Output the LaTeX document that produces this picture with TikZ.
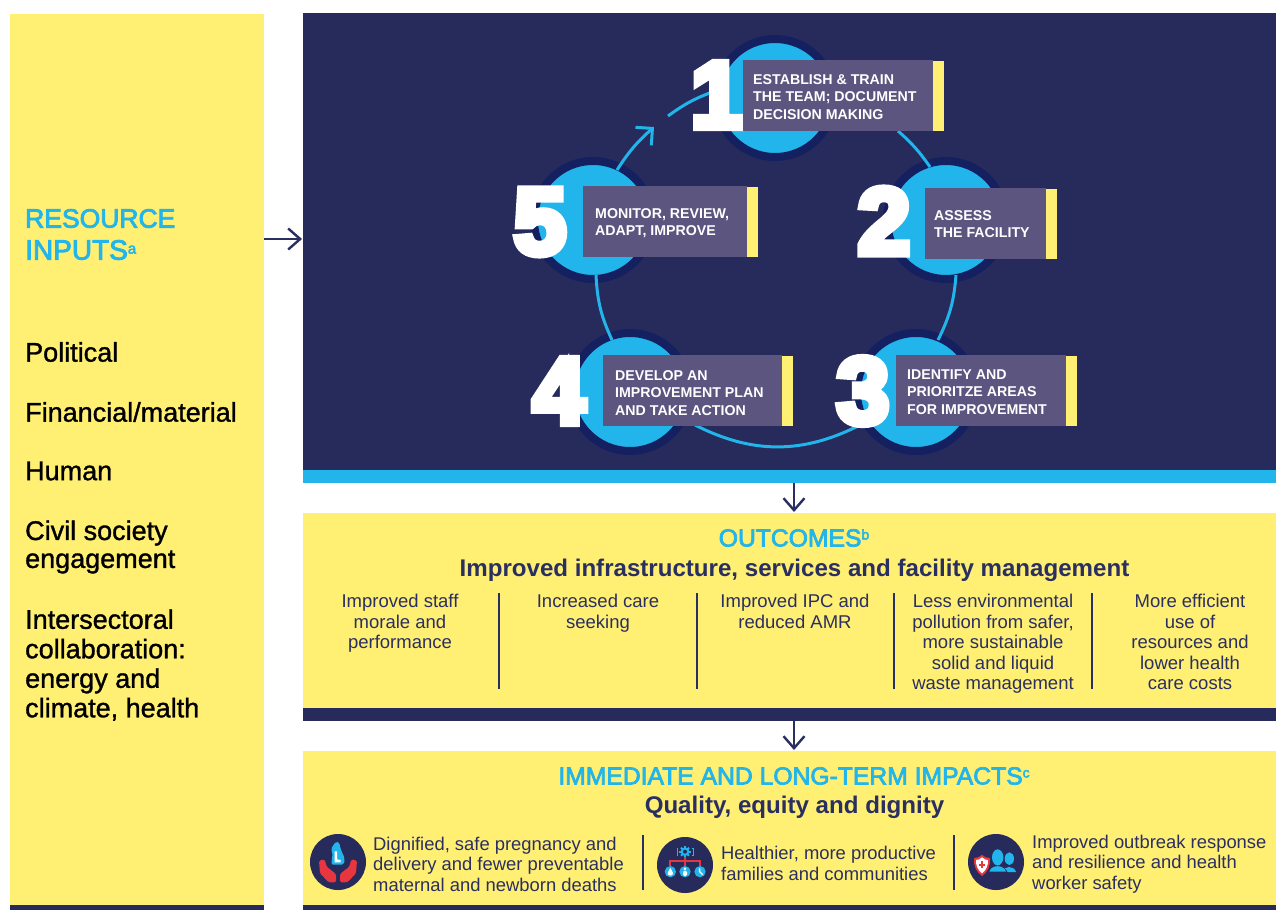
\documentclass[tikz,border=0pt]{standalone}
\usepackage{fontspec}
\setmainfont{Liberation Sans}
\newfontfamily\digitfont[FakeBold=8]{Liberation Sans Bold}
\newfontfamily\medfont[FakeBold=3]{Liberation Sans}
\newfontfamily\lightmed[FakeBold=1.2]{Liberation Sans}
\usetikzlibrary{arrows.meta,bending}
\definecolor{panel}{HTML}{262B5B}
\definecolor{ringdark}{HTML}{14205F}
\definecolor{sky}{HTML}{21B5EC}
\definecolor{lemon}{HTML}{FFEF73}
\definecolor{mauve}{HTML}{5C5580}
\definecolor{ink}{HTML}{2A2F62}
\definecolor{alert}{HTML}{E8363F}
\tikzset{
  x=1pt,y=-1pt,
  disc/.style={circle,fill=sky,draw=ringdark,line width=8pt,minimum size=118pt,inner sep=0pt},
  stepbox/.style={fill=mauve,draw=none,minimum height=71pt,anchor=north west,inner sep=0pt},
  tab/.style={fill=lemon,draw=none,anchor=north west,minimum width=11pt,minimum height=70pt,inner sep=0pt},
  steptext/.style={text=white,anchor=west,align=left,inner sep=0pt,font=\fontsize{14.2}{17.5}\selectfont\bfseries},
  digit/.style={text=white,inner sep=0pt,font=\fontsize{94}{94}\selectfont\digitfont},
  ringline/.style={draw=sky,line width=3pt},
  flow/.style={draw=ink,line width=2.4pt,-{Straight Barb[length=12pt,width=21pt,line width=2.4pt]}},
  lefttext/.style={anchor=west,inner sep=0pt,align=left,font=\fontsize{27}{29.5}\selectfont\lightmed},
  headtext/.style={anchor=west,inner sep=0pt,text=sky,font=\fontsize{26.5}{30}\selectfont\medfont},
  colhead/.style={text=sky,inner sep=0pt,font=\fontsize{24.7}{29}\selectfont\medfont},
  colsub/.style={text=ink,inner sep=0pt,font=\fontsize{24.1}{29}\selectfont\bfseries},
  coltext/.style={text=ink,inner sep=0pt,align=center,anchor=north,font=\fontsize{18.5}{20.5}\selectfont},
  imptext/.style={text=ink,inner sep=0pt,align=left,anchor=west,font=\fontsize{18.4}{20.5}\selectfont},
  divider/.style={draw=ink,line width=2.6pt},
  iconbg/.style={circle,fill=panel,draw=none,minimum size=56pt,inner sep=0pt},
}
\begin{document}
\begin{tikzpicture}
\useasboundingbox (0,0) rectangle (1276,910);
\fill[white] (0,0) rectangle (1276,910);
% bands
\fill[lemon] (10,14) rectangle (264,905);
\fill[panel] (10,905) rectangle (264,910);
\fill[panel] (303,13) rectangle (1276,470);
\fill[sky] (303,470) rectangle (1276,483);
\fill[lemon] (303,513) rectangle (1276,708);
\fill[panel] (303,708) rectangle (1276,721);
\fill[lemon] (303,751) rectangle (1276,905);
\fill[panel] (303,905) rectangle (1276,910);
% discs
\node[disc] (c1) at (775,98) {};
\node[disc] (c2) at (946,220) {};
\node[disc] (c3) at (916,392) {};
\node[disc] (c4) at (630,392) {};
\node[disc] (c5) at (593,220) {};
% ring
\coordinate (a1) at (617,170); \coordinate (a2) at (654,127);
\coordinate (b1) at (668,116); \coordinate (b2) at (715,91);
\coordinate (d1) at (898,131); \coordinate (d2) at (930,167);
\coordinate (e1) at (956,275); \coordinate (e2) at (938,340);
\coordinate (f1) at (860,425); \coordinate (f2) at (695,425);
\coordinate (g1) at (612,340); \coordinate (g2) at (596,275);
\draw[ringline,-{Straight Barb[length=12pt,width=24pt,line width=3pt]}] (a1) to[bend left=8] (a2);
\draw[ringline] (b1) to[bend left=8] (b2);
\draw[ringline] (d1) to[bend left=7] (d2);
\draw[ringline] (e1) to[bend left=11] (e2);
\draw[ringline] (f1) to[bend left=27] (f2);
\draw[ringline] (g1) to[bend left=11] (g2);
% digits
\node[digit] (n1) at (717,95) {1};
\node[digit] (n2) at (884,221) {2};
\node[digit] (n3) at (863,391) {3};
\node[digit] (n4) at (559,391) {4};
\node[digit] (n5) at (540,222) {5};
% step boxes
\node[stepbox,minimum width=190pt] (s1) at (743,60) {};
\node[tab] (t1) at (933,61) {};
\node[steptext] (x1) at (753,97) {ESTABLISH \& TRAIN\\THE TEAM; DOCUMENT\\DECISION MAKING};
\node[stepbox,minimum width=164pt] (s5) at (583,186) {};
\node[tab] (t5) at (747,187) {};
\node[steptext] (x5) at (595,223) {MONITOR, REVIEW,\\ADAPT, IMPROVE};
\node[stepbox,minimum width=121pt] (s2) at (925,188) {};
\node[tab] (t2) at (1046,189) {};
\node[steptext] (x2) at (934,224) {ASSESS\\THE FACILITY};
\node[stepbox,minimum width=179pt] (s4) at (603,355) {};
\node[tab] (t4) at (782,356) {};
\node[steptext] (x4) at (615,393) {DEVELOP AN\\IMPROVEMENT PLAN\\AND TAKE ACTION};
\node[stepbox,minimum width=170pt] (s3) at (896,355) {};
\node[tab] (t3) at (1066,356) {};
\node[steptext] (x3) at (907,392) {IDENTIFY AND\\PRIORITZE AREAS\\FOR IMPROVEMENT};
% arrows
\coordinate (la) at (264,239); \coordinate (lb) at (302,239);
\draw[flow] (la) -- (lb);
\coordinate (ma) at (794,483); \coordinate (mb) at (794,512);
\draw[flow] (ma) -- (mb);
\coordinate (na) at (794,721); \coordinate (nb) at (794,750);
\draw[flow] (na) -- (nb);
% left column
\node[headtext] (res) at (25,218.5) {RESOURCE};
\node[headtext] (inp) at (25,250) {\fontsize{28}{30}\selectfont INPUTS\raisebox{6pt}{\fontsize{15}{15}\selectfont a}};
\node[lefttext] (i1) at (25,352) {Political};
\node[lefttext] (i2) at (25,412) {Financial/material};
\node[lefttext] (i3) at (25,471) {Human};
\node[lefttext] (i4) at (25,533) {Civil society};
\node[lefttext] (i4b) at (25,562) {engagement};
\node[lefttext] (i5) at (25,665) {Intersectoral\\collaboration:\\energy and\\climate, health};
% outcomes
\node[colhead] (oh) at (794,538) {OUTCOMES\raisebox{7pt}{\fontsize{14}{14}\selectfont b}};
\node[colsub] (os) at (794.5,570) {Improved infrastructure, services and facility management};
\node[coltext] (o1) at (400,594) {Improved staff\\morale and\\performance};
\node[coltext] (o2) at (598,594) {Increased care\\seeking};
\node[coltext] (o3) at (795,594) {Improved IPC and\\reduced AMR};
\node[coltext] (o4) at (993,594) {Less environmental\\pollution from safer,\\more sustainable\\solid and liquid\\waste management};
\node[coltext] (o5) at (1190,594) {More efficient\\use of\\resources and\\lower health\\care costs};
\foreach \xx in {499,697,894,1092} \draw[divider] (\xx,593) -- (\xx,689);
% impacts
\node[colhead] (ih) at (794,776) {IMMEDIATE AND LONG-TERM IMPACTS\raisebox{7pt}{\fontsize{14}{14}\selectfont c}};
\node[colsub] (is) at (794.5,807) {Quality, equity and dignity};
\foreach \xx in {643,954} \draw[divider] (\xx,835) -- (\xx,890);
\node[imptext] (m1) at (373,864) {Dignified, safe pregnancy and\\delivery and fewer preventable\\maternal and newborn deaths};
\node[imptext] (m2) at (721,863.5) {Healthier, more productive\\families and communities};
\node[imptext] (m3) at (1032,864) {Improved outbreak response\\and resilience and health\\worker safety};
% icons
\node[iconbg] (k1) at (338,862) {};
\node[iconbg] (k2) at (685,865) {};
\node[iconbg] (k3) at (996,862) {};
% icon 1: hands and expectant mother
\begin{scope}[shift={(308,832)},scale=1/3]
  \fill[sky,rounded corners=2pt] (84,28) -- (94,31) -- (98,52) -- (110,78) -- (108,98) -- (70,98) -- (74,62) -- (68,52) -- cycle;
  \fill[white] (80,58) -- (87,58) -- (87,82) -- (98,84) -- (98,91) -- (80,91) -- cycle;
  \fill[alert,rounded corners=1.5pt] (33,86) -- (50,82) -- (56,104) -- (84,126) -- (84,151) -- (62,151) -- (36,124) -- cycle;
  \fill[alert,rounded corners=1.5pt] (147,86) -- (130,82) -- (124,104) -- (96,126) -- (96,151) -- (118,151) -- (144,124) -- cycle;
\end{scope}
% icon 2: gear, tree, three round symbols
\begin{scope}[shift={(655,835)},scale=1/3]
  \foreach \aa in {0,45,...,315} \draw[sky,line width=2pt] (90,50) -- ++(\aa:17);
  \fill[sky] (90,50) circle[radius=13];
  \fill[panel] (90,50) circle[radius=6];
  \draw[sky,line width=1pt] (70,40) -- (66,40) -- (66,60) -- (70,60) (110,40) -- (114,40) -- (114,60) -- (110,60);
  \draw[alert,line width=2pt] (90,66) -- (90,94) (46,94) -- (46,78) -- (135,78) -- (135,94);
  \foreach \xx in {46,90,135} \fill[sky] (\xx,110) circle[radius=17];
  \fill[white] (46,99) .. controls (42,107) and (38,111) .. (38,115) .. controls (38,124) and (54,124) .. (54,115) .. controls (54,111) and (50,107) .. (46,99) -- cycle;
  \fill[white] (90,101) circle[radius=4];
  \fill[white,rounded corners=1.5pt] (84,107) rectangle (96,123);
  \draw[white,line width=1.4pt] (134,100) -- (134,110) -- (143,119);
\end{scope}
% icon 3: shield and two people
\begin{scope}[shift={(966,832)},scale=1/3]
  \fill[sky] (130,80) ellipse[x radius=14,y radius=19];
  \fill[sky] (108,120) .. controls (114,100) and (144,100) .. (150,120) -- cycle;
  \fill[panel] (95,76) ellipse[x radius=20,y radius=27];
  \fill[panel] (64,124) .. controls (72,96) and (118,96) .. (126,124) -- cycle;
  \fill[sky] (95,76) ellipse[x radius=17,y radius=24];
  \fill[sky] (70,119) .. controls (76,97) and (114,97) .. (120,119) -- cycle;
  \fill[alert] (48,68) .. controls (56,76) and (64,78) .. (72,78) .. controls (74,100) and (66,120) .. (48,132) .. controls (30,120) and (22,100) .. (24,78) .. controls (32,78) and (40,76) .. (48,68) -- cycle;
  \fill[white] (48,76) .. controls (54,82) and (60,84) .. (66,84) .. controls (67,100) and (60,115) .. (48,124) .. controls (36,115) and (29,100) .. (30,84) .. controls (36,84) and (42,82) .. (48,76) -- cycle;
  \fill[alert] (45,88) rectangle (51,108);
  \fill[alert] (38,95) rectangle (58,101);
\end{scope}
\end{tikzpicture}
\end{document}
